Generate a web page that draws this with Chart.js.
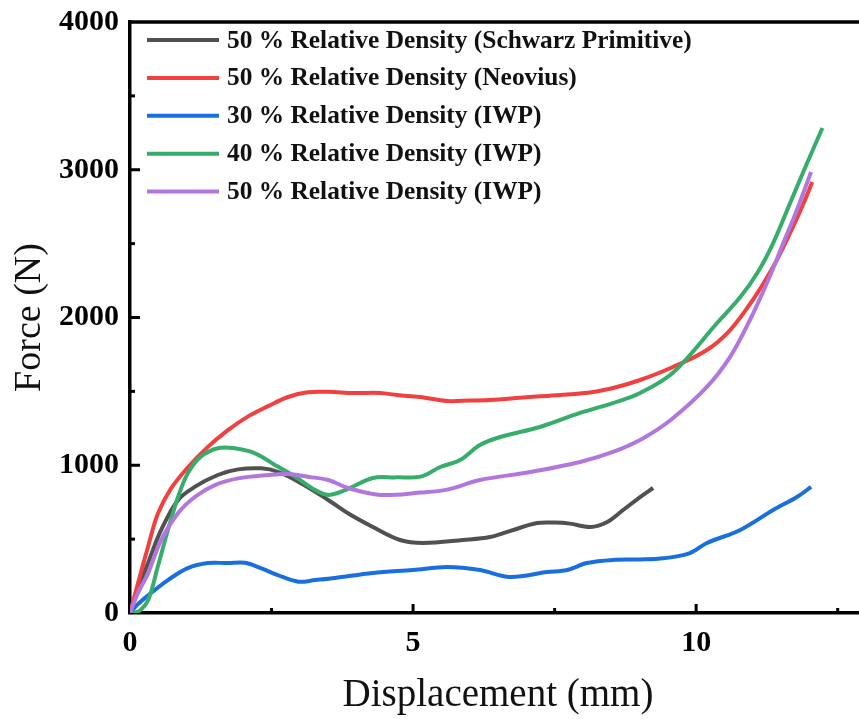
<!DOCTYPE html>
<html lang="en">
<head>
  <meta charset="UTF-8">
  <title>Force vs Displacement</title>
  <script src="https://cdn.jsdelivr.net/npm/chart.js@4.4.3/dist/chart.umd.min.js"></script>
  <style>
    html, body { margin: 0; padding: 0; background: #fff; overflow: hidden; }
    #wrap { width: 866px; height: 719px; position: relative; }
  </style>
</head>
<body>
  <div id="wrap"><canvas id="chart"></canvas></div>
  <script>
    // Compression curves, displacement in mm / force in N
    const schwarzDisp = [0, 0.14, 0.32, 0.55, 0.85, 1.15, 1.55, 1.91, 2.32, 2.61, 3.02, 3.5, 3.85, 4.29, 4.77, 5.18, 5.88, 6.36, 6.77, 7.19, 7.5, 7.77, 8.13, 8.43, 8.71, 9.01, 9.24];
    const schwarzForce = [0, 160, 340, 562, 765, 855, 934, 972, 979, 956, 878, 765, 675, 582, 494, 474, 494, 514, 562, 609, 612, 605, 582, 616, 697, 785, 846];

    const neoviusDisp = [0, 0.14, 0.32, 0.49, 0.72, 1.02, 1.38, 1.73, 2.08, 2.44, 2.79, 3.14, 3.5, 3.94, 4.42, 4.72, 5.12, 5.6, 6.0, 6.36, 7.0, 7.6, 8.18, 8.6, 9.01, 9.59, 10.19, 10.6, 11.0, 11.36, 11.66, 11.9, 12.05];
    const neoviusForce = [0, 200, 450, 670, 840, 985, 1126, 1238, 1329, 1400, 1462, 1494, 1497, 1489, 1489, 1475, 1462, 1435, 1438, 1441, 1460, 1475, 1496, 1530, 1577, 1665, 1780, 1915, 2118, 2342, 2572, 2775, 2917];

    const iwp30Disp = [0, 0.14, 0.37, 0.67, 1.02, 1.38, 1.73, 2.03, 2.32, 2.61, 2.97, 3.27, 3.62, 4.29, 5.0, 5.6, 6.18, 6.71, 7.37, 7.72, 8.07, 8.53, 9.01, 9.42, 9.89, 10.19, 10.78, 11.36, 11.78, 12.03];
    const iwp30Force = [0, 60, 135, 223, 304, 338, 338, 340, 302, 257, 212, 223, 237, 271, 291, 311, 291, 244, 277, 291, 338, 359, 362, 370, 406, 474, 562, 697, 785, 853];

    const iwp40Disp = [0, 0.15, 0.32, 0.49, 0.67, 0.85, 1.02, 1.25, 1.55, 1.85, 2.21, 2.56, 2.92, 3.27, 3.5, 3.8, 4.29, 4.7, 5.15, 5.48, 5.83, 6.18, 6.54, 7.24, 7.95, 8.53, 9.01, 9.6, 10.37, 10.78, 11.08, 11.36, 11.66, 11.96, 12.23];
    const iwp40Force = [0, 10, 88, 313, 562, 787, 945, 1058, 1115, 1115, 1081, 1002, 922, 832, 799, 832, 914, 918, 925, 988, 1035, 1137, 1191, 1259, 1354, 1421, 1489, 1630, 1963, 2139, 2301, 2504, 2775, 3046, 3283];

    const iwp50Disp = [0, 0.14, 0.32, 0.55, 0.85, 1.15, 1.5, 1.91, 2.44, 2.79, 3.14, 3.5, 3.85, 4.42, 5.12, 5.6, 6.18, 7.07, 7.95, 8.53, 9.05, 9.55, 10.19, 10.6, 10.95, 11.25, 11.54, 11.78, 12.03];
    const iwp50Force = [0, 135, 270, 494, 677, 787, 866, 911, 934, 941, 922, 900, 846, 799, 815, 835, 900, 954, 1022, 1090, 1180, 1306, 1530, 1733, 1983, 2233, 2504, 2728, 2985];

    const seriesLabels = [
      '50 % Relative Density (Schwarz Primitive)',
      '50 % Relative Density (Neovius)',
      '30 % Relative Density (IWP)',
      '40 % Relative Density (IWP)',
      '50 % Relative Density (IWP)'
    ];
    const seriesColors = ['#515151', '#F14040', '#1A6FDF', '#37AD6B', '#B177DE'];
    const seriesDisp = [schwarzDisp, neoviusDisp, iwp30Disp, iwp40Disp, iwp50Disp];
    const seriesForce = [schwarzForce, neoviusForce, iwp30Force, iwp40Force, iwp50Force];

    const yTicks = [0, 1000, 2000, 3000, 4000];
    const xTicks = [0, 5, 10];

    const SERIF = '"Liberation Serif", "Times New Roman", serif';

    // inward tick marks, top frame line and the inset legend
    const framePlugin = {
      id: 'frame',
      afterDraw(chart) {
        const ctx = chart.ctx;
        const { left, right, top, bottom } = chart.chartArea;
        const xs = chart.scales.x, ys = chart.scales.y;
        ctx.save();
        ctx.strokeStyle = '#000';
        ctx.lineWidth = 3.5;
        ctx.beginPath();
        ctx.moveTo(left - 1.75, top);
        ctx.lineTo(right, top);
        ctx.stroke();

        ctx.lineWidth = 3;
        for (let v = 500; v <= 3500; v += 500) {
          const py = ys.getPixelForValue(v);
          const len = v % 1000 === 0 ? 10 : 5;
          ctx.beginPath();
          ctx.moveTo(left, py);
          ctx.lineTo(left + len, py);
          ctx.stroke();
        }
        for (let v = 2.5; v <= 12.5; v += 2.5) {
          const px = xs.getPixelForValue(v);
          const len = v % 5 === 0 ? 9 : 5;
          ctx.beginPath();
          ctx.moveTo(px, bottom);
          ctx.lineTo(px, bottom - len);
          ctx.stroke();
        }

        // legend
        ctx.font = 'bold 25.4px ' + SERIF;
        ctx.textBaseline = 'middle';
        ctx.fillStyle = '#111';
        chart.data.datasets.forEach((ds, i) => {
          const y = 40 + i * 37.9;
          ctx.strokeStyle = ds.borderColor;
          ctx.lineWidth = 4;
          ctx.beginPath();
          ctx.moveTo(147, y);
          ctx.lineTo(219, y);
          ctx.stroke();
          ctx.fillText(ds.label, 227, y + 1);
        });
        ctx.restore();
      }
    };

    const datasets = seriesLabels.map((label, i) => ({
      label: label,
      data: seriesDisp[i].map((d, k) => ({ x: d, y: seriesForce[i][k] })),
      borderColor: seriesColors[i],
      backgroundColor: seriesColors[i],
      borderWidth: 4,
      pointRadius: 0,
      tension: 0.35,
      order: seriesLabels.length - i
    }));

    new Chart(document.getElementById('chart'), {
      type: 'line',
      data: { datasets },
      options: {
        responsive: true,
        maintainAspectRatio: false,
        animation: false,
        layout: { padding: { top: 22, left: 0, right: 0, bottom: 0 } },
        plugins: { legend: { display: false }, tooltip: { enabled: false } },
        scales: {
          x: {
            type: 'linear',
            min: 0,
            max: 13,
            afterFit: s => { s.height = 106; s.paddingLeft = 0; s.paddingRight = 0; },
            afterBuildTicks: s => { s.ticks = xTicks.map(v => ({ value: v })); },
            grid: { display: false, drawTicks: false },
            border: { display: true, color: '#000', width: 3.5 },
            ticks: {
              padding: 12,
              color: '#000',
              font: { family: SERIF, size: 30, weight: 'bold' },
              maxRotation: 0,
              callback: v => String(v)
            },
            title: {
              display: true,
              text: 'Displacement (mm)',
              color: '#111',
              font: { family: SERIF, size: 39 },
              padding: { top: 0, bottom: 0 }
            }
          },
          y: {
            min: 0,
            max: 4000,
            afterFit: s => { s.width = 130; s.paddingTop = 0; s.paddingBottom = 0; },
            afterBuildTicks: s => { s.ticks = yTicks.map(v => ({ value: v })); },
            grid: { display: false, drawTicks: false },
            border: { display: true, color: '#000', width: 3.5 },
            ticks: {
              padding: 11,
              color: '#000',
              font: { family: SERIF, size: 30, weight: 'bold' },
              callback: v => String(v)
            },
            title: {
              display: true,
              text: 'Force (N)',
              color: '#111',
              font: { family: SERIF, size: 38 },
              padding: { top: 7, bottom: 0 }
            }
          }
        }
      },
      plugins: [framePlugin]
    });
  </script>
</body>
</html>
